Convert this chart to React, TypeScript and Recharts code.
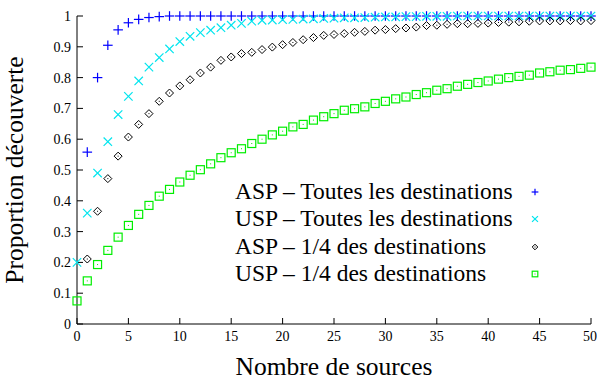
import React from "react";
import { ScatterChart, Scatter, XAxis, YAxis, Legend } from "recharts";

const sources = [
  0, 1, 2, 3, 4, 5, 6, 7, 8, 9, 10, 11, 12, 13, 14, 15, 16, 17, 18, 19, 20, 21, 22, 23, 24, 25,
  26, 27, 28, 29, 30, 31, 32, 33, 34, 35, 36, 37, 38, 39, 40, 41, 42, 43, 44, 45, 46, 47, 48, 49, 50,
];

const aspAll = [
  null, 0.558, 0.8, 0.905, 0.955, 0.978, 0.989, 0.995, 0.998, 1, 1, 1, 1, 1, 1, 1, 1, 1, 1, 1, 1,
  1, 1, 1, 1, 1, 1, 1, 1, 1, 1, 1, 1, 1, 1, 1, 1, 1, 1, 1, 1, 1, 1, 1, 1, 1, 1, 1, 1, 1, 1,
];

const uspAll = [
  0.2, 0.36, 0.49, 0.592, 0.68, 0.739, 0.789, 0.834, 0.865, 0.893, 0.917, 0.934, 0.946, 0.954,
  0.962, 0.97, 0.976, 0.983, 0.986, 0.987, 0.988, 0.989, 0.99, 0.991, 0.992, 0.993, 0.994, 0.994,
  0.995, 0.996, 0.997, 0.997, 0.998, 0.998, 0.999, 0.999, 0.999, 1, 1, 1, 1, 1, 1, 1, 1, 1, 1, 1,
  1, 1, 1,
];

const aspQuarter = [
  null, 0.211, 0.366, 0.472, 0.545, 0.607, 0.648, 0.683, 0.723, 0.75, 0.773, 0.793, 0.815, 0.834,
  0.856, 0.867, 0.878, 0.882, 0.891, 0.899, 0.907, 0.914, 0.923, 0.93, 0.937, 0.94, 0.943, 0.947,
  0.95, 0.954, 0.956, 0.959, 0.961, 0.964, 0.969, 0.97, 0.973, 0.975, 0.975, 0.976, 0.977, 0.979,
  0.98, 0.981, 0.983, 0.984, 0.984, 0.984, 0.985, 0.984, 0.985,
];

const uspQuarter = [
  0.075, 0.14, 0.193, 0.239, 0.282, 0.32, 0.356, 0.385, 0.415, 0.437, 0.461, 0.483, 0.501, 0.52,
  0.54, 0.556, 0.569, 0.586, 0.6, 0.614, 0.626, 0.64, 0.648, 0.662, 0.673, 0.683, 0.694, 0.699,
  0.705, 0.716, 0.723, 0.731, 0.737, 0.745, 0.751, 0.759, 0.764, 0.772, 0.778, 0.784, 0.789, 0.795,
  0.8, 0.804, 0.808, 0.815, 0.819, 0.824, 0.826, 0.83, 0.834,
];

const xTicks = [0, 5, 10, 15, 20, 25, 30, 35, 40, 45, 50];
const yTicks = [0, 0.1, 0.2, 0.3, 0.4, 0.5, 0.6, 0.7, 0.8, 0.9, 1];

const toPoints = (values: (number | null)[]) =>
  sources
    .map((x, i) => ({ x, y: values[i] }))
    .filter((p) => p.y !== null);

type MarkerKind = "plus" | "cross" | "diamond" | "square";

const Marker = ({
  kind,
  cx,
  cy,
  color,
  r = 1,
}: {
  kind: MarkerKind;
  cx: number;
  cy: number;
  color: string;
  r?: number;
}) => {
  if (kind === "plus") {
    const a = 4.8 * r;
    return (
      <g stroke={color} strokeWidth={1.2}>
        <line x1={cx - a} y1={cy} x2={cx + a} y2={cy} />
        <line x1={cx} y1={cy - a} x2={cx} y2={cy + a} />
      </g>
    );
  }
  if (kind === "cross") {
    const a = 4.2 * r;
    return (
      <g stroke={color} strokeWidth={1.2}>
        <line x1={cx - a} y1={cy - a} x2={cx + a} y2={cy + a} />
        <line x1={cx - a} y1={cy + a} x2={cx + a} y2={cy - a} />
      </g>
    );
  }
  if (kind === "diamond") {
    const a = 4 * r;
    return (
      <g>
        <path
          d={`M${cx},${cy - a} L${cx + a},${cy} L${cx},${cy + a} L${cx - a},${cy} Z`}
          fill="none"
          stroke={color}
          strokeWidth={1}
        />
        <rect x={cx - 0.5} y={cy - 0.5} width={1} height={1} fill={color} />
      </g>
    );
  }
  const a = 4 * r;
  return (
    <g>
      <rect x={cx - a} y={cy - a} width={2 * a} height={2 * a} fill="none" stroke={color} strokeWidth={1.2} />
      <rect x={cx - 0.5} y={cy - 0.5} width={1} height={1} fill={color} />
    </g>
  );
};

const series: { name: string; values: (number | null)[]; kind: MarkerKind; color: string }[] = [
  { name: "ASP \u2013 Toutes les destinations", values: aspAll, kind: "plus", color: "#0000ff" },
  { name: "USP \u2013 Toutes les destinations", values: uspAll, kind: "cross", color: "#00e5ee" },
  { name: "ASP \u2013 1/4 des destinations", values: aspQuarter, kind: "diamond", color: "#000000" },
  { name: "USP \u2013 1/4 des destinations", values: uspQuarter, kind: "square", color: "#00ee00" },
];

const font = "'Liberation Serif', 'Times New Roman', serif";

const LegendBox = () => (
  <div style={{ fontFamily: font, fontSize: 23.5, color: "#000", width: 320 }}>
    {series.map((s) => (
      <div key={s.name} style={{ position: "relative", height: 27.3, lineHeight: "27.3px", whiteSpace: "nowrap" }}>
        <span>{s.name}</span>
        <svg width={12} height={12} style={{ position: "absolute", left: 294, top: 8 }}>
          <Marker kind={s.kind} cx={6} cy={6} color={s.color} r={0.7} />
        </svg>
      </div>
    ))}
  </div>
);

const tickStyle = { fontFamily: font, fontSize: 14, fill: "#000" };

export default function App() {
  return (
    <div>
      <style>{"body{margin:0}"}</style>
      <ScatterChart width={597} height={377} margin={{ top: 16, right: 6, bottom: 0, left: 0 }}>
        <XAxis
          dataKey="x"
          type="number"
          domain={[0, 50]}
          ticks={xTicks}
          height={53}
          tickSize={-6}
          tickMargin={13}
          tick={tickStyle}
          axisLine={{ stroke: "#000" }}
          tickLine={{ stroke: "#000" }}
          label={{
            value: "Nombre de sources",
            position: "insideBottom",
            offset: 2,
            style: { fontFamily: font, fontSize: 25.5, fill: "#000" },
          }}
        />
        <XAxis
          xAxisId="top"
          orientation="top"
          type="number"
          domain={[0, 50]}
          ticks={xTicks}
          height={0}
          tickSize={-6}
          tickFormatter={() => ""}
          axisLine={{ stroke: "#000" }}
          tickLine={{ stroke: "#000" }}
          allowDataOverflow
        />
        <YAxis
          dataKey="y"
          type="number"
          domain={[0, 1]}
          ticks={yTicks}
          width={77}
          tickSize={-6}
          tickMargin={12}
          tick={tickStyle}
          axisLine={{ stroke: "#000" }}
          tickLine={{ stroke: "#000" }}
          label={{
            value: "Proportion d\u00e9couverte",
            angle: -90,
            position: "insideLeft",
            offset: 14,
            style: { fontFamily: font, fontSize: 25.5, fill: "#000", textAnchor: "middle" },
          }}
        />
        <YAxis
          yAxisId="right"
          orientation="right"
          type="number"
          domain={[0, 1]}
          ticks={yTicks}
          width={0}
          tickSize={-6}
          tickFormatter={() => ""}
          axisLine={{ stroke: "#000" }}
          tickLine={{ stroke: "#000" }}
          allowDataOverflow
        />
        <Legend
          layout="horizontal"
          verticalAlign="middle"
          align="center"
          content={() => <LegendBox />}
          wrapperStyle={{ left: 235, top: 178, width: 320 }}
        />
        {series.map((s) => (
          <Scatter
            key={s.name}
            name={s.name}
            data={toPoints(s.values)}
            isAnimationActive={false}
            shape={(p: any) => <Marker kind={s.kind} cx={p.cx} cy={p.cy} color={s.color} />}
          />
        ))}
      </ScatterChart>
    </div>
  );
}
